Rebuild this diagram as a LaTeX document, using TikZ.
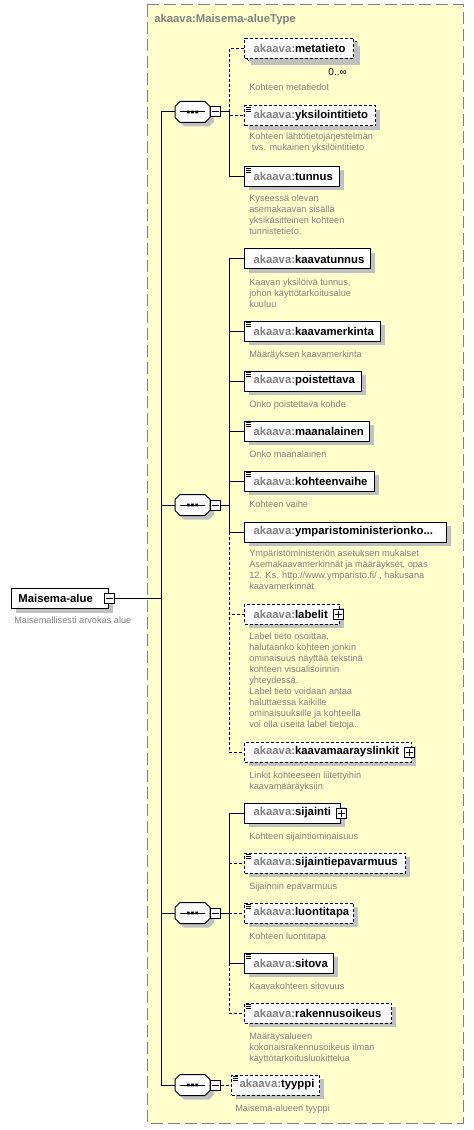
\documentclass[tikz,border=0pt]{standalone}
\usepackage{fontspec}
\setmainfont{Liberation Sans}
\usetikzlibrary{shadows,calc}
\definecolor{ybg}{HTML}{FFFFCC}
\definecolor{gborder}{HTML}{808080}
\definecolor{shc}{HTML}{C0C0C0}
\definecolor{pre}{HTML}{808080}
\definecolor{dtext}{HTML}{808080}
\newdimen\pxu \pxu=0.75pt
\tikzset{
 conn/.style={line width=0.75pt},
 dconn/.style={line width=0.75pt, dash pattern=on 2.25pt off 1.5pt},
 elbase/.style={draw=black, fill=white, line width=0.75pt, inner sep=0pt, minimum height=15pt,
   font=\fontsize{8.5}{10}\selectfont\bfseries,
   general shadow={fill=shc, shadow xshift=3pt, shadow yshift=-3pt}},
 ebox/.style={elbase},
 obox/.style={elbase, dash pattern=on 2.25pt off 1.5pt},
 desc/.style={anchor=base west, inner sep=0pt, align=left, text=dtext, font=\fontsize{6.9}{8.25}\selectfont},
 pmbox/.style={draw=black, fill=white, line width=0.75pt, minimum size=7.5pt, inner sep=0pt},
}
% element: style, name, x, yc, width(px), label
\newcommand\elem[6]{%
 \node[#1, anchor=west] (#2) at (#3,#4) {\makebox[#5\pxu][l]{\hspace{9\pxu}\textcolor{pre}{akaava:}#6}};}
\newcommand\docicon[1]{%
 \draw[line width=0.75pt] ([shift={(2,2.2)}]#1.north west) -- +(5,0)
   ([shift={(2,4.2)}]#1.north west) -- +(5,0)
   ([shift={(2,6.2)}]#1.north west) -- +(5,0);}
\newcommand\minusbox[3]{%
 \node[pmbox] (#1) at (#2,#3) {};
 \draw[line width=0.75pt] ([xshift=1.5pt]#1.west) -- ([xshift=-1.5pt]#1.east);}
\newcommand\plusbox[3]{%
 \node[pmbox] (#1) at (#2,#3) {};
 \draw[line width=0.75pt] ([xshift=1.5pt]#1.west) -- ([xshift=-1.5pt]#1.east)
   ([yshift=-1.5pt]#1.north) -- ([yshift=1.5pt]#1.south);}
\newcommand\seqc[2]{%
 \begin{scope}[shift={(0,#2)}]
  \fill[shc] (179,-1.5) -- (184,-6.5) -- (209,-6.5) -- (214,-1.5) -- (214,9.5) -- (209,14.5) -- (184,14.5) -- (179,9.5) -- cycle;
  \draw[line width=0.75pt, fill=white] (175,-5.5) -- (180,-10.5) -- (205,-10.5) -- (210,-5.5) -- (210,5.5) -- (205,10.5) -- (180,10.5) -- (175,5.5) -- cycle;
  \draw[line width=0.75pt] (180,0) -- (205,0);
  \fill (187,-1.3) rectangle (189.6,1.3) (191.2,-1.3) rectangle (193.8,1.3) (195.4,-1.3) rectangle (198,1.3);
  \node[minimum width=26.25pt, minimum height=15.75pt, inner sep=0pt] (#1) at (192.5,0) {};
 \end{scope}
 \minusbox{#1m}{215}{#2}}
\begin{document}
\begin{tikzpicture}[x=0.75pt,y=-0.75pt]
\useasboundingbox (0,0) rectangle (474,1130);
% type box
\draw[fill=ybg, draw=gborder, line width=0.75pt, dash pattern=on 9pt off 3.75pt] (147,5) rectangle (463,1123);
\node[anchor=base west, inner sep=0pt, text=pre, font=\fontsize{8.5}{10}\selectfont\bfseries] (title) at (154,23) {akaava:Maisema-alueType};

% root
\node[ebox, anchor=west] (root) at (11,598.5) {\makebox[97\pxu][l]{\hspace{7\pxu}Maisema-alue}};
\minusbox{rootm}{109}{598.5}
\node[desc] (root-d) at (14,623) {Maisemallisesti arvokas alue};

% sequences
\seqc{s1}{112}
\seqc{s2}{505}
\seqc{s3}{913}
\seqc{s4}{1085}

% seq 1 children
\fill[shc] (251,46) rectangle (360,65);
\draw[fill=white, line width=0.75pt, dash pattern=on 2.25pt off 1.5pt] (247,42) rectangle (356,61);
\elem{obox}{meta}{244}{48.5}{109}{metatieto}
\node[anchor=east, inner sep=0pt, font=\fontsize{7.5}{9}\selectfont] (meta-n) at (347,72) {0..∞};
\node[desc] (meta-d) at (249,91) {Kohteen metatiedot};
\elem{obox}{yks}{244}{116}{131}{yksilointitieto}\docicon{yks}
\node[desc] (yks-d) at (249,151) {Kohteen lähtötietojärjestelmän\\\ tvs. mukainen yksilöintitieto};
\elem{ebox}{tun}{244}{176.5}{95}{tunnus}\docicon{tun}
\node[desc] (tun-d) at (249,235) {Kyseessä olevan\\asemakaavan sisällä\\yksikäsitteinen kohteen\\tunnistetieto.};

% seq 2 children
\elem{ebox}{kt}{244}{259}{126}{kaavatunnus}
\node[desc] (kt-d) at (249,307) {Kaavan yksilöivä tunnus,\\johon käyttötarkoitusalue\\kuuluu};
\elem{ebox}{km}{244}{331}{136}{kaavamerkinta}\docicon{km}
\node[desc] (km-d) at (249,357) {Määräyksen kaavamerkinta};
\elem{ebox}{poi}{244}{381}{117}{poistettava}\docicon{poi}
\node[desc] (poi-d) at (249,407) {Onko poistettava kohde};
\elem{ebox}{maa}{244}{431}{125}{maanalainen}\docicon{maa}
\node[desc] (maa-d) at (249,457) {Onko maanalainen};
\elem{ebox}{kv}{244}{481}{130}{kohteenvaihe}\docicon{kv}
\node[desc] (kv-d) at (249,507) {Kohteen vaihe};
\elem{ebox}{ymp}{244}{532}{202}{ymparistoministerionko...}
\node[desc] (ymp-d) at (249,589) {Ympäristöministeriön asetuksen mukaiset\\Asemakaavamerkinnät ja määräykset, opas\\12. Ks. http://www.ymparisto.fi/ , hakusana\\kaavamerkinnät};
\elem{obox}{lab}{244}{614}{95}{labelit}
\plusbox{lab-p}{338}{614}
\node[desc] (lab-d) at (249,727) {Label tieto osoittaa,\\halutaanko kohteen jonkin\\ominaisuus näyttää tekstinä\\kohteen visualisoinnin\\yhteydessä.\\Label tieto voidaan antaa\\haluttaessa kaikille\\ominaisuuksille ja kohteella\\voi olla useita label tietoja.};
\elem{obox}{kml}{244}{752}{167}{kaavamaarayslinkit}
\plusbox{kml-p}{409}{752}
\node[desc] (kml-d) at (249,789) {Linkit kohteeseen liitettyihin\\kaavamääräyksiin};

% seq 3 children
\elem{ebox}{sij}{244}{813}{96}{sijainti}
\plusbox{sij-p}{341}{813}
\node[desc] (sij-d) at (249,839) {Kohteen sijaintiominaisuus};
\elem{obox}{sep}{244}{863}{161}{sijaintiepavarmuus}\docicon{sep}
\node[desc] (sep-d) at (249,889) {Sijainnin epävarmuus};
\elem{obox}{lt}{244}{913}{109}{luontitapa}\docicon{lt}
\node[desc] (lt-d) at (249,939) {Kohteen luontitapa};
\elem{ebox}{sit}{244}{963}{89}{sitova}\docicon{sit}
\node[desc] (sit-d) at (249,989) {Kaavakohteen sitovuus};
\elem{obox}{rak}{244}{1013}{147}{rakennusoikeus}\docicon{rak}
\node[desc] (rak-d) at (249,1061) {Määräysalueen\\kokonaisrakennusoikeus ilman\\käyttötarkoitusluokittelua};

% seq 4 child
\node[obox, anchor=west] (tyy) at (231,1085) {\makebox[88\pxu][l]{\hspace{8\pxu}\textcolor{pre}{akaava:}tyyppi}};
\docicon{tyy}
\node[desc] (tyy-d) at (235,1111) {Maisema-alueen tyyppi};

% connectors
\coordinate (trunk) at (161,598.5);
\draw[conn] (rootm.east) -- (trunk);
\draw[conn] (trunk) |- (s1.west);
\draw[conn] (trunk) |- (s2.west);
\draw[conn] (trunk) |- (s3.west);
\draw[conn] (trunk) |- (s4.west);

\coordinate (b1) at (229,112);
\draw[conn] (s1m.east) -- (b1);
\draw[dconn] (b1) |- (meta.west);
\draw[dconn] (b1) |- (yks.west);
\draw[conn] (b1) |- (tun.west);

\coordinate (b2) at (229,505);
\draw[conn] (s2m.east) -- (b2);
\draw[conn] (b2) |- (kt.west);
\draw[conn] (b2) |- (km.west);
\draw[conn] (b2) |- (poi.west);
\draw[conn] (b2) |- (maa.west);
\draw[conn] (b2) |- (kv.west);
\draw[conn] (b2) |- (ymp.west);
\coordinate (j2) at (b2 |- ymp.west);
\draw[dconn] (j2) |- (lab.west);
\draw[dconn] (j2) |- (kml.west);

\coordinate (b3) at (229,913);
\draw[conn] (s3m.east) -- (b3);
\draw[conn] (b3) |- (sij.west);
\draw[dconn] (b3 |- sep.west) -- (sep.west);
\draw[dconn] (b3) -- (lt.west);
\draw[conn] (b3) |- (sit.west);
\coordinate (j3) at (b3 |- sit.west);
\draw[dconn] (j3) |- (rak.west);

\draw[dconn] (s4m.east) -- (tyy.west);
\end{tikzpicture}
\end{document}
